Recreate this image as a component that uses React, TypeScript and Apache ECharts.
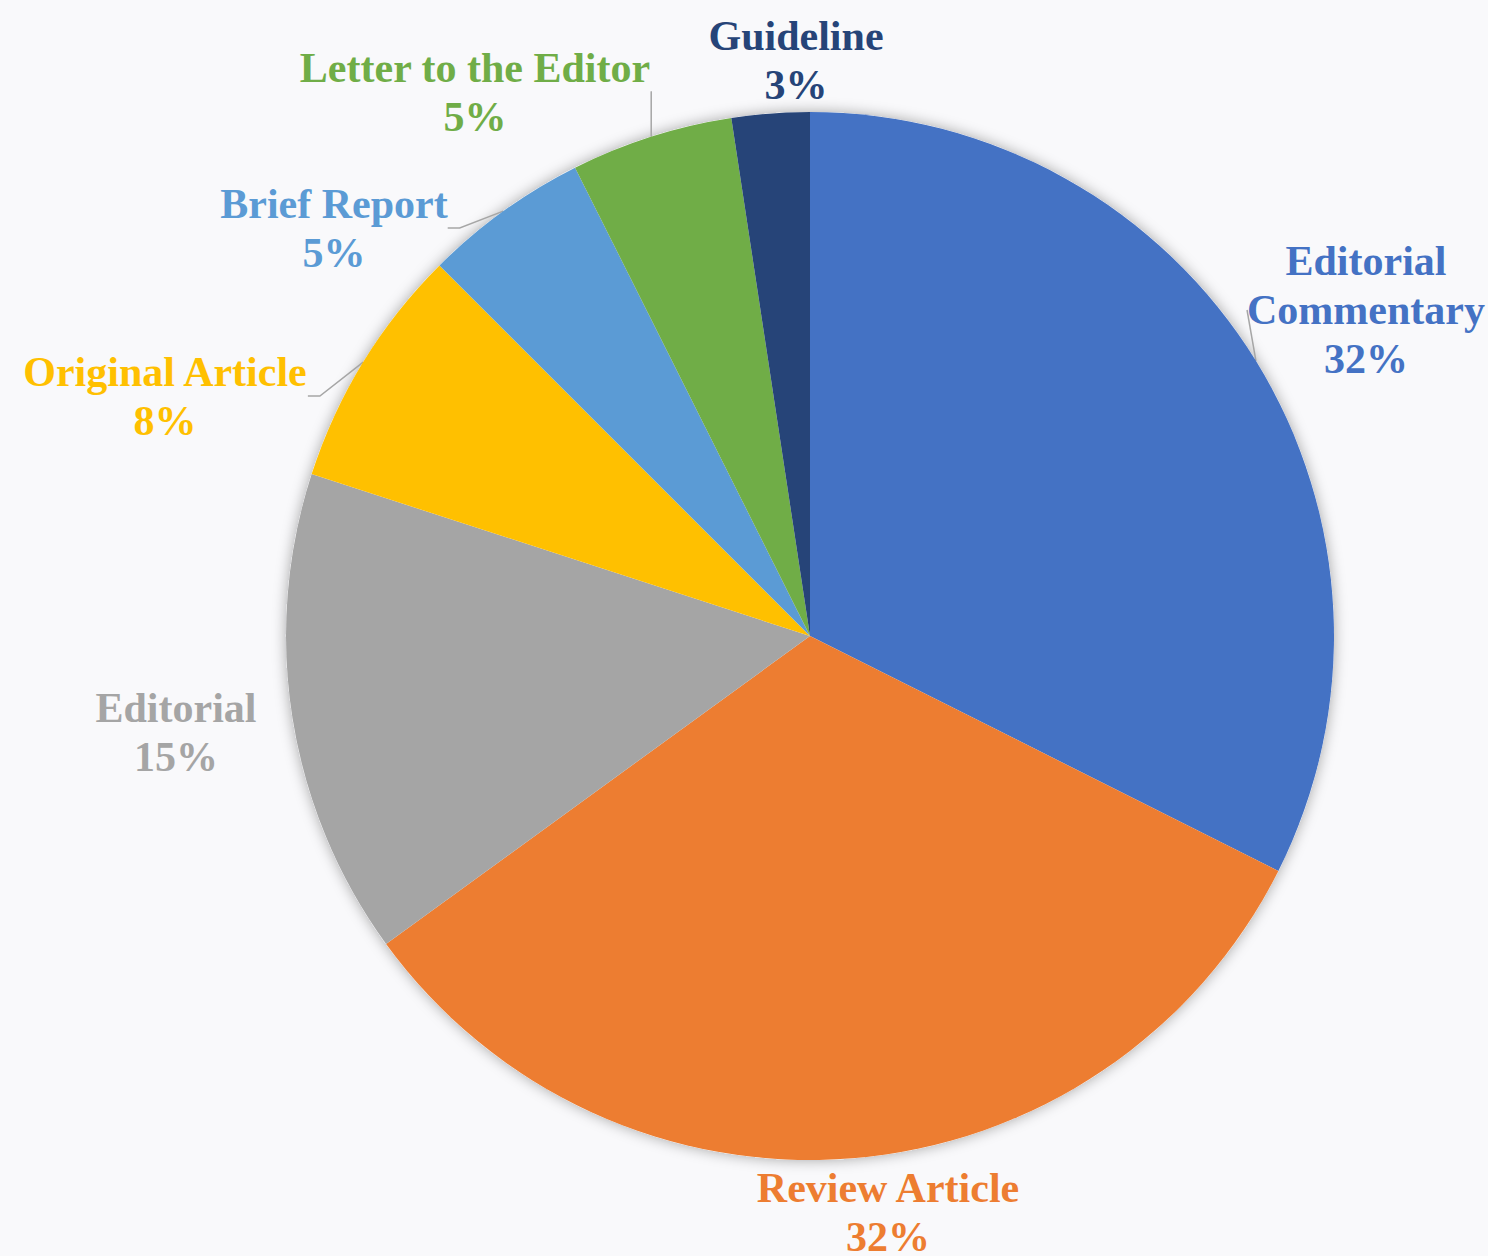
import React, { useEffect, useRef } from "react";
import * as echarts from "echarts";

const categories = [
  "Editorial Commentary",
  "Review Article",
  "Editorial",
  "Original Article",
  "Brief Report",
  "Letter to the Editor",
  "Guideline",
];
const labelNames = [
  "Editorial\nCommentary",
  "Review Article",
  "Editorial",
  "Original Article",
  "Brief Report",
  "Letter to the Editor",
  "Guideline",
];
const values = [32.4, 32.6, 15, 7.5, 5.1, 5.0, 2.4];
const percentLabels = ["32%", "32%", "15%", "8%", "5%", "5%", "3%"];
const colors = ["#4472C4", "#ED7D31", "#A5A5A5", "#FFC000", "#5B9BD5", "#70AD47", "#264478"];
const showLine = [true, false, false, true, true, true, false];
// label block centres (layout)
const labelPos = [
  [1366, 310],
  [888, 1212],
  [176, 732],
  [165, 396],
  [334, 228],
  [475, 92],
  [796, 60],
];

export default function App() {
  const ref = useRef<HTMLDivElement>(null);
  useEffect(() => {
    if (!ref.current) return;
    document.body.style.margin = "0";
    const chart = echarts.init(ref.current, undefined, { renderer: "svg" });
    const data = categories.map((c, i) => ({
      name: c,
      value: values[i],
      itemStyle: { color: colors[i] },
      label: {
        color: colors[i],
        formatter: () => `${labelNames[i]}\n${percentLabels[i]}`,
      },
      labelLine: { show: showLine[i] },
    }));
    chart.setOption({
      animation: false,
      backgroundColor: "#f9f9fb",
      series: [
        {
          type: "pie",
          silent: true,
          center: [810, 636],
          radius: 524,
          z: 1,
          label: { show: false },
          labelLine: { show: false },
          itemStyle: {
            color: "#ffffff",
            shadowBlur: 14,
            shadowColor: "rgba(0,0,0,0.35)",
            shadowOffsetX: 0,
            shadowOffsetY: 0,
          },
          data: [{ name: "bg", value: 1 }],
        },
        {
          type: "pie",
          center: [810, 636],
          radius: 524,
          startAngle: 90,
          clockwise: true,
          z: 2,
          avoidLabelOverlap: false,
          label: {
            show: true,
            position: "outside",
            fontFamily: "Liberation Serif",
            fontWeight: "bold",
            fontSize: 42,
            lineHeight: 49,
            align: "center",
          },
          labelLine: {
            show: true,
            length: 12,
            length2: 12,
            lineStyle: { color: "#a6a6a6", width: 1.5 },
          },
          labelLayout: (params: any) => {
            const p = labelPos[params.dataIndex];
            return { x: p[0], y: p[1], align: "center", verticalAlign: "middle" };
          },
          itemStyle: { borderWidth: 0 },
          data,
        },
      ],
    });
    return () => chart.dispose();
  }, []);
  return (
    <div
      ref={ref}
      style={{ position: "fixed", left: 0, top: 0, width: 1488, height: 1256 }}
    />
  );
}
